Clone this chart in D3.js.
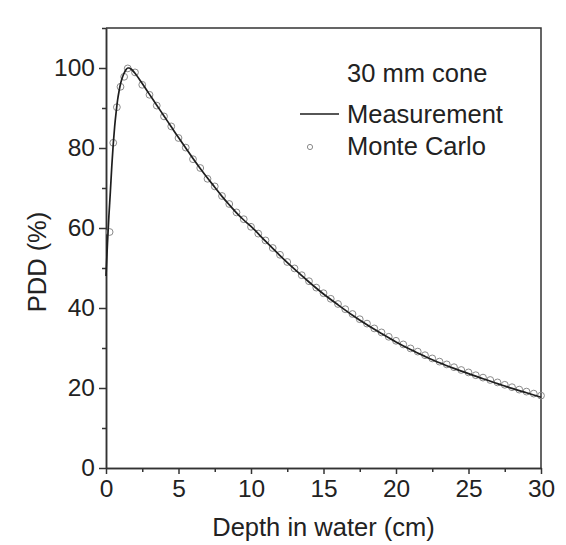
<!DOCTYPE html>
<html>
<head>
<meta charset="utf-8">
<script src="https://cdn.jsdelivr.net/npm/d3@7"></script>
<style>
    body { margin: 0; background: #fff; }
    svg text { font-family: "Liberation Sans", Arial, sans-serif; fill: #222; }
</style>
</head>
<body>
<div id="chart"></div>
<script>
// measured PDD curve
var measDepth = [0, 0.1, 0.2, 0.3, 0.4, 0.5, 0.6, 0.7, 0.8, 0.9, 1.0, 1.1, 1.2, 1.3, 1.4, 1.5, 1.6, 1.7, 1.8,
    2.0, 2.5, 3.0, 3.5, 4.0, 4.5, 5.0, 5.5, 6.0, 6.5, 7.0, 7.5, 8.0, 8.5, 9.0, 9.5,
    10, 11, 12, 13, 14, 15, 16, 17, 18, 19, 20, 21, 22, 23, 24, 25, 26, 27, 28, 29, 30];
var measPdd = [48, 56, 63, 69, 75.5, 81, 85.5, 89, 92, 94.2, 96, 97.3, 98.3, 99.1, 99.7, 100, 100, 99.8, 99.5,
    98.7, 96.1, 93.4, 90.7, 88.0, 85.3, 82.6, 80.0, 77.4, 74.9, 72.5, 70.2, 67.9, 65.8, 63.8, 62.0,
    60.4, 56.7, 53.1, 49.7, 46.5, 43.5, 40.8, 38.2, 35.8, 33.6, 31.5, 29.6, 27.9, 26.3, 24.9, 23.6, 22.3, 21.1, 19.9, 18.8, 17.7];

// Monte Carlo points
var mcDepth = [0.25, 0.5, 0.75, 1.0, 1.25, 1.5, 2.0, 2.5, 3.0, 3.5, 4.0, 4.5, 5.0, 5.5, 6.0, 6.5, 7.0, 7.5, 8.0, 8.5,
    9.0, 9.5, 10.0, 10.5, 11.0, 11.5, 12.0, 12.5, 13.0, 13.5, 14.0, 14.5, 15.0, 15.5, 16.0, 16.5, 17.0, 17.5,
    18.0, 18.5, 19.0, 19.5, 20.0, 20.5, 21.0, 21.5, 22.0, 22.5, 23.0, 23.5, 24.0, 24.5, 25.0, 25.5, 26.0, 26.5,
    27.0, 27.5, 28.0, 28.5, 29.0, 29.5, 30.0];
var mcPdd = [59, 81.3, 90.2, 95.3, 97.8, 99.9, 98.9, 95.8, 93.3, 90.6, 87.9, 85.4, 82.5, 80.1, 77.2, 75.0, 72.3, 70.4, 68.0, 66.0,
    63.9, 62.2, 60.3, 58.6, 56.9, 55.0, 53.3, 51.5, 49.9, 48.2, 46.7, 45.1, 43.7, 42.3, 41.0, 39.7, 38.5, 37.2,
    36.1, 34.9, 33.9, 32.8, 31.8, 30.9, 29.9, 29.1, 28.2, 27.4, 26.6, 25.9, 25.2, 24.5, 23.9, 23.2, 22.6, 22.0,
    21.4, 20.8, 20.2, 19.6, 19.1, 18.6, 18.1];

var xTicks = [0, 5, 10, 15, 20, 25, 30];
var xMinor = [2.5, 7.5, 12.5, 17.5, 22.5, 27.5];
var yTicks = [0, 20, 40, 60, 80, 100];
var yMinor = [10, 30, 50, 70, 90, 110];

var sWidth = 566;
var sHeight = 545;

var marg = { top: 28, bottom: 77, left: 106, right: 25 };
var width = sWidth - marg.left - marg.right;
var height = sHeight - marg.top - marg.bottom;

var svg = d3.select('#chart')
    .append('svg')
    .attr('width', sWidth)
    .attr('height', sHeight);

var g = svg.append('g')
    .attr('transform', `translate(${marg.left}, ${marg.top})`);

var xScale = d3.scaleLinear().domain([0, 30]).range([0, width]);
var yScale = d3.scaleLinear().domain([0, 110]).range([height, 0]);

// frame (top + right)
g.append('path')
    .attr('d', `M0,0H${width}V${height}`)
    .attr('fill', 'none')
    .attr('stroke', '#333')
    .attr('stroke-width', 1.5);

// axes
var xAxis = g.append('g')
    .attr('transform', `translate(0, ${height})`)
    .call(d3.axisBottom(xScale).tickValues(xTicks).tickSize(6).tickPadding(6).tickSizeOuter(0));
var xMin = g.append('g')
    .attr('transform', `translate(0, ${height})`)
    .call(d3.axisBottom(xScale).tickValues(xMinor).tickSize(4).tickFormat('').tickSizeOuter(0));

var yAxis = g.append('g')
    .call(d3.axisLeft(yScale).tickValues(yTicks).tickSize(7).tickPadding(4).tickSizeOuter(0));
var yMin = g.append('g')
    .call(d3.axisLeft(yScale).tickValues(yMinor).tickSize(4).tickFormat('').tickSizeOuter(0));

[xAxis, xMin, yAxis, yMin].forEach(function(a) {
    a.selectAll('path, line').attr('stroke', '#333').attr('stroke-width', 1.5);
    a.selectAll('text').style('font-size', '24.5px').attr('fill', '#222');
});

// measurement line
var measData = measDepth.map((d, i) => ({ x: d, y: measPdd[i] }));
var line = d3.line()
    .x(d => xScale(d.x))
    .y(d => yScale(d.y))
    .curve(d3.curveMonotoneX);

// monte carlo circles
var mcData = mcDepth.map((d, i) => ({ x: d, y: mcPdd[i] }));
g.selectAll('circle.mc')
    .data(mcData)
    .enter()
    .append('circle')
    .classed('mc', true)
    .attr('cx', d => xScale(d.x))
    .attr('cy', d => yScale(d.y))
    .attr('r', 3.4)
    .attr('fill', 'none')
    .attr('stroke', '#8a8a8a')
    .attr('stroke-width', 1);

g.append('path')
    .datum(measData)
    .attr('d', line)
    .attr('fill', 'none')
    .attr('stroke', '#1e1e1e')
    .attr('stroke-width', 1.7);

// axis titles
svg.append('text')
    .attr('x', marg.left + width / 2)
    .attr('y', 536)
    .attr('text-anchor', 'middle')
    .style('font-size', '25.5px')
    .text('Depth in water (cm)');

svg.append('text')
    .attr('transform', 'translate(46, 262) rotate(-90)')
    .attr('text-anchor', 'middle')
    .style('font-size', '25.5px')
    .text('PDD (%)');

// legend
var legend = svg.append('g');
legend.append('text')
    .attr('x', 347).attr('y', 82)
    .style('font-size', '25.5px')
    .text('30 mm cone');
legend.append('line')
    .attr('x1', 300).attr('x2', 339)
    .attr('y1', 114).attr('y2', 114)
    .attr('stroke', '#1e1e1e')
    .attr('stroke-width', 1.7);
legend.append('text')
    .attr('x', 347).attr('y', 123)
    .style('font-size', '25.5px')
    .text('Measurement');
legend.append('circle')
    .attr('cx', 310).attr('cy', 147)
    .attr('r', 2.6)
    .attr('fill', 'none')
    .attr('stroke', '#8a8a8a')
    .attr('stroke-width', 1);
legend.append('text')
    .attr('x', 347).attr('y', 155)
    .style('font-size', '25.5px')
    .text('Monte Carlo');
</script>
</body>
</html>
